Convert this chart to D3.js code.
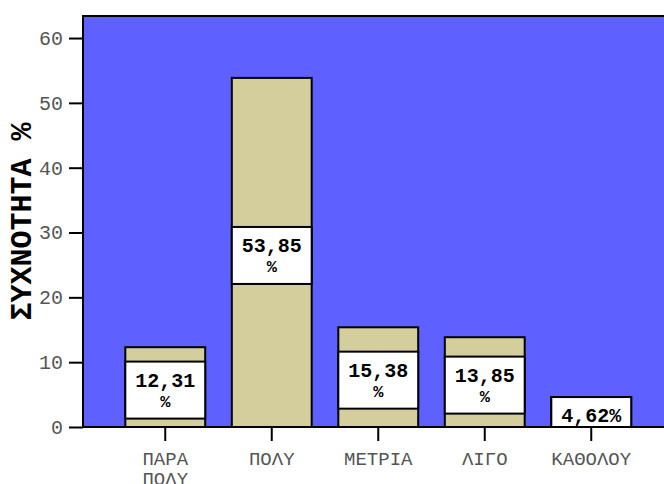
<!DOCTYPE html>
<html>
<head>
<meta charset="utf-8">
<script src="https://cdn.jsdelivr.net/npm/d3@7"></script>
<style>
  html, body { margin: 0; padding: 0; background: #ffffff; }
  svg { display: block; }
</style>
</head>
<body>
<svg id="chart" width="664" height="484"></svg>
<script>
// Answer categories (x axis) and their share of responses in percent
const categories = ["ΠΑΡΑ ΠΟΛΥ", "ΠΟΛΥ", "ΜΕΤΡΙΑ", "ΛΙΓΟ", "ΚΑΘΟΛΟΥ"];
const categoryLines = [["ΠΑΡΑ", "ΠΟΛΥ"], ["ΠΟΛΥ"], ["ΜΕΤΡΙΑ"], ["ΛΙΓΟ"], ["ΚΑΘΟΛΟΥ"]];
const percents = [12.31, 53.85, 15.38, 13.85, 4.62];
const yTicks = [0, 10, 20, 30, 40, 50, 60];
const yTitle = "ΣΥΧΝΟΤΗΤΑ %";

const fmt = v => v.toFixed(2).replace(".", ",");
// value labels: wrapped on a space when the value is wide enough to need it
const valueLabelLines = percents.map(v => v < 10 ? [fmt(v) + "%"] : [fmt(v), "%"]);

const svg = d3.select("#chart");
const W = 664, H = 484;
const plot = { left: 83, top: 16, right: 664, bottom: 427 };
const mono = "'Liberation Mono', 'Courier New', monospace";

const y = d3.scaleLinear().domain([0, 63.4]).range([plot.bottom, plot.top]);
const x = d3.scaleBand().domain(categories).range([112, 644.5])
  .paddingInner(0.25).paddingOuter(0.125);

// plot background
svg.append("rect")
  .attr("x", plot.left).attr("y", plot.top)
  .attr("width", plot.right - plot.left + 4).attr("height", plot.bottom - plot.top)
  .attr("fill", "#5e61ff").attr("stroke", "#000").attr("stroke-width", 2);

svg.append("clipPath").attr("id", "plotclip")
  .append("rect")
  .attr("x", plot.left).attr("y", plot.top)
  .attr("width", plot.right - plot.left).attr("height", plot.bottom - plot.top);

const g = svg.append("g").attr("clip-path", "url(#plotclip)");

// bars
g.selectAll("rect.bar").data(percents).join("rect")
  .attr("class", "bar")
  .attr("x", (d, i) => x(categories[i]))
  .attr("y", d => y(d))
  .attr("width", x.bandwidth())
  .attr("height", d => y(0) - y(d) + 2)
  .attr("fill", "#d3ce9b")
  .attr("stroke", "#000").attr("stroke-width", 2);

// value label boxes
const boxH = 57;
const boxTop = d => {
  const mid = (y(d) + y(0)) / 2;
  return Math.max(mid - boxH / 2 + 3, y(d));
};
const labels = g.selectAll("g.vlabel").data(percents).join("g").attr("class", "vlabel");
labels.append("rect")
  .attr("x", (d, i) => x(categories[i]))
  .attr("y", d => boxTop(d))
  .attr("width", x.bandwidth())
  .attr("height", boxH)
  .attr("fill", "#fff").attr("stroke", "#000").attr("stroke-width", 2);
labels.each(function (d, i) {
  const t = d3.select(this).append("text")
    .attr("text-anchor", "middle")
    .attr("font-family", mono).attr("font-weight", "bold")
    .attr("font-size", 20).attr("fill", "#000");
  valueLabelLines[i].forEach((line, k) => {
    t.append("tspan")
      .attr("x", x(categories[i]) + x.bandwidth() / 2)
      .attr("y", boxTop(d) + 25 + k * 20)
      .attr("font-size", k === 0 ? 20 : 17)
      .text(line);
  });
});

// y axis
const yAxis = svg.append("g")
  .attr("transform", `translate(${plot.left},0)`)
  .call(d3.axisLeft(y).tickValues(yTicks).tickSize(14).tickPadding(6).tickFormat(d3.format("d")));
yAxis.select(".domain").remove();
yAxis.selectAll("line").attr("stroke", "#000").attr("stroke-width", 2);
yAxis.selectAll("text").attr("font-family", mono).attr("font-size", 20).attr("fill", "#555");

// x axis
svg.append("line")
  .attr("x1", plot.left).attr("x2", W).attr("y1", plot.bottom).attr("y2", plot.bottom)
  .attr("stroke", "#000").attr("stroke-width", 2);
const xAxis = svg.append("g")
  .attr("transform", `translate(0,${plot.bottom})`)
  .call(d3.axisBottom(x).tickSize(14).tickFormat(""));
xAxis.select(".domain").remove();
xAxis.selectAll("line").attr("stroke", "#000").attr("stroke-width", 2);
xAxis.selectAll(".tick").each(function (d, i) {
  const t = d3.select(this).append("text")
    .attr("text-anchor", "middle")
    .attr("font-family", mono).attr("font-size", 19).attr("fill", "#555");
  categoryLines[i].forEach((line, k) => {
    t.append("tspan").attr("x", 0).attr("y", 38 + k * 20).text(line);
  });
});

// y axis title
svg.append("text")
  .attr("transform", `translate(31,${(plot.top + plot.bottom) / 2}) rotate(-90)`)
  .attr("text-anchor", "middle")
  .attr("font-family", mono).attr("font-weight", "bold")
  .attr("font-size", 30).attr("fill", "#000")
  .text(yTitle);
</script>
</body>
</html>
